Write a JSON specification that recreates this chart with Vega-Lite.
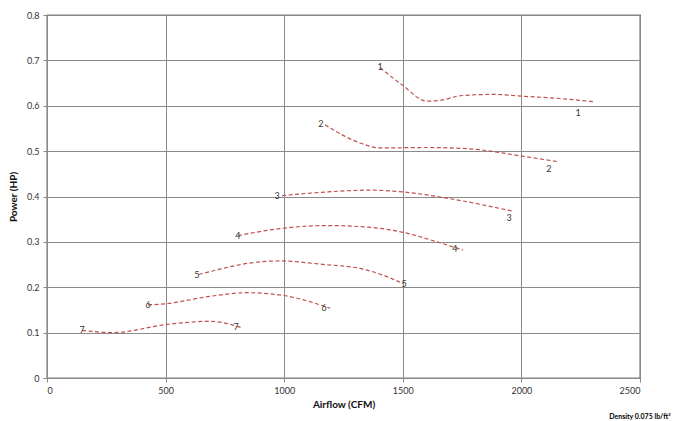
{
  "$schema": "https://vega.github.io/schema/vega-lite/v6.json",
  "width": 593,
  "height": 363,
  "autosize": "none",
  "padding": {"left": 47, "top": 15, "right": 33, "bottom": 43},
  "background": "white",
  "config": {
    "view": {"stroke": "black", "strokeWidth": 1.2},
    "font": "Lato",
    "axis": {
      "labelFont": "Lato", "titleFont": "Lato", "labelFontSize": 9, "labelColor": "#333",
      "titleFontSize": 10, "titleFontWeight": "bold", "titleColor": "#111",
      "gridColor": "#8a8a8a", "gridWidth": 1, "domainColor": "#8a8a8a", "tickColor": "#8a8a8a", "tickSize": 4
    }
  },
  "title": {"text": "Density 0.075 lb/ft³", "orient": "bottom", "anchor": "end", "fontSize": 7, "fontWeight": "bold", "font": "Lato", "color": "#000", "dx": 30, "offset": 4},
  "datasets": {
    "curves": [
      {"curve": "1", "x": 1404, "y": 0.684},
      {"curve": "1", "x": 1497, "y": 0.646},
      {"curve": "1", "x": 1602, "y": 0.610},
      {"curve": "1", "x": 1669, "y": 0.613},
      {"curve": "1", "x": 1741, "y": 0.622},
      {"curve": "1", "x": 1880, "y": 0.625},
      {"curve": "1", "x": 2003, "y": 0.621},
      {"curve": "1", "x": 2163, "y": 0.616},
      {"curve": "1", "x": 2302, "y": 0.609},
      {"curve": "2", "x": 1172, "y": 0.558},
      {"curve": "2", "x": 1320, "y": 0.518},
      {"curve": "2", "x": 1404, "y": 0.507},
      {"curve": "2", "x": 1602, "y": 0.508},
      {"curve": "2", "x": 1783, "y": 0.505},
      {"curve": "2", "x": 2003, "y": 0.489},
      {"curve": "2", "x": 2150, "y": 0.477},
      {"curve": "3", "x": 991, "y": 0.402},
      {"curve": "3", "x": 1151, "y": 0.409},
      {"curve": "3", "x": 1362, "y": 0.414},
      {"curve": "3", "x": 1501, "y": 0.410},
      {"curve": "3", "x": 1712, "y": 0.394},
      {"curve": "3", "x": 1960, "y": 0.368},
      {"curve": "4", "x": 805, "y": 0.314},
      {"curve": "4", "x": 995, "y": 0.330},
      {"curve": "4", "x": 1180, "y": 0.336},
      {"curve": "4", "x": 1362, "y": 0.332},
      {"curve": "4", "x": 1501, "y": 0.321},
      {"curve": "4", "x": 1644, "y": 0.300},
      {"curve": "4", "x": 1754, "y": 0.282},
      {"curve": "5", "x": 640, "y": 0.228},
      {"curve": "5", "x": 729, "y": 0.240},
      {"curve": "5", "x": 850, "y": 0.253},
      {"curve": "5", "x": 982, "y": 0.258},
      {"curve": "5", "x": 1151, "y": 0.251},
      {"curve": "5", "x": 1332, "y": 0.240},
      {"curve": "5", "x": 1420, "y": 0.226},
      {"curve": "5", "x": 1501, "y": 0.208},
      {"curve": "6", "x": 426, "y": 0.161},
      {"curve": "6", "x": 506, "y": 0.164},
      {"curve": "6", "x": 687, "y": 0.180},
      {"curve": "6", "x": 843, "y": 0.188},
      {"curve": "6", "x": 995, "y": 0.182},
      {"curve": "6", "x": 1193, "y": 0.154},
      {"curve": "7", "x": 148, "y": 0.105},
      {"curve": "7", "x": 278, "y": 0.100},
      {"curve": "7", "x": 506, "y": 0.118},
      {"curve": "7", "x": 687, "y": 0.125},
      {"curve": "7", "x": 826, "y": 0.110}
    ],
    "labels": [
      {"label": "1", "x": 1404, "y": 0.685},
      {"label": "1", "x": 2239, "y": 0.584},
      {"label": "2", "x": 1155, "y": 0.560},
      {"label": "2", "x": 2116, "y": 0.461},
      {"label": "3", "x": 970, "y": 0.401},
      {"label": "3", "x": 1948, "y": 0.353},
      {"label": "4", "x": 805, "y": 0.313},
      {"label": "4", "x": 1720, "y": 0.284},
      {"label": "5", "x": 632, "y": 0.227},
      {"label": "5", "x": 1505, "y": 0.207},
      {"label": "6", "x": 426, "y": 0.161},
      {"label": "6", "x": 1168, "y": 0.154},
      {"label": "7", "x": 148, "y": 0.106},
      {"label": "7", "x": 797, "y": 0.112}
    ]
  },
  "layer": [
    {
      "data": {"name": "curves"},
      "mark": {"type": "line", "interpolate": "monotone", "color": "#c0504d", "strokeDash": [4, 2.5], "strokeWidth": 1.2},
      "encoding": {
        "x": {"field": "x", "type": "quantitative", "scale": {"domain": [0, 2500], "nice": false},
              "axis": {"title": "Airflow (CFM)", "values": [0, 500, 1000, 1500, 2000, 2500], "format": "d", "titlePadding": 4, "labelPadding": 4}},
        "y": {"field": "y", "type": "quantitative", "scale": {"domain": [0, 0.8], "nice": false},
              "axis": {"title": "Power (HP)", "values": [0, 0.1, 0.2, 0.3, 0.4, 0.5, 0.6, 0.7, 0.8], "format": "~g", "titlePadding": 8, "labelPadding": 4}},
        "detail": {"field": "curve"}
      }
    },
    {
      "data": {"name": "labels"},
      "mark": {"type": "text", "fontSize": 9, "color": "#333", "font": "Lato"},
      "encoding": {
        "x": {"field": "x", "type": "quantitative"},
        "y": {"field": "y", "type": "quantitative"},
        "text": {"field": "label"}
      }
    }
  ]
}
